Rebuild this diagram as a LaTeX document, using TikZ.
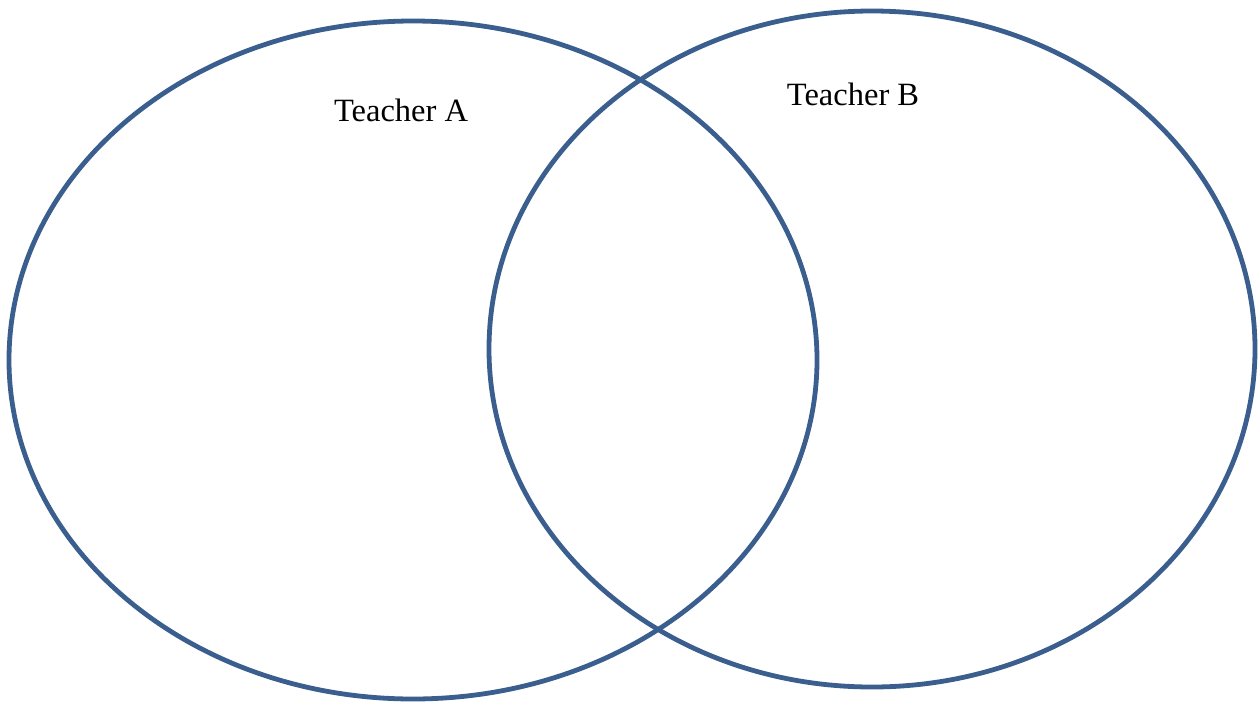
\documentclass[tikz,border=0pt]{standalone}
\usepackage{fontspec}
\setmainfont{Liberation Serif}
\usetikzlibrary{positioning}
\definecolor{RingBlue}{HTML}{3A5E8E}

\begin{document}
\begin{tikzpicture}[x=1pt, y=-1pt,
  ring/.style={draw=RingBlue, line width=4.8pt},
  lbl/.style={font=\fontsize{32.5}{39}\selectfont, text=black, inner sep=0pt}
]
\useasboundingbox (0,0) rectangle (1258,704);
\draw[ring] (413,360) ellipse [x radius=404, y radius=339];
\draw[ring] (872,349) ellipse [x radius=383, y radius=338];
\node[lbl] (ta) at (401,110) {Teacher A};
\node[lbl] (tb) at (853,94) {Teacher B};
\end{tikzpicture}
\end{document}
